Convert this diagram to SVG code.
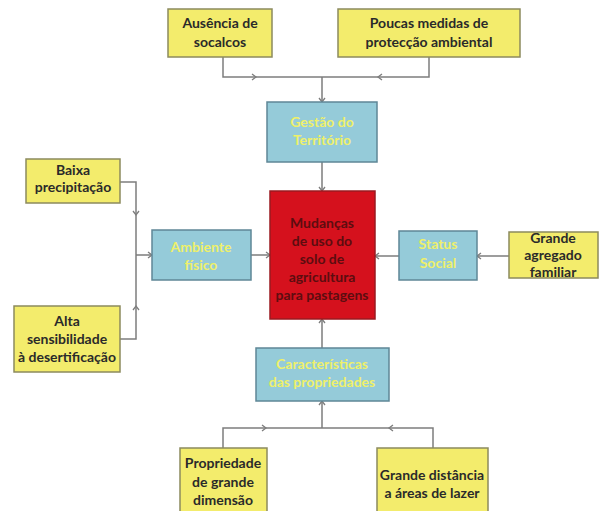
<svg xmlns="http://www.w3.org/2000/svg" width="600" height="511" viewBox="0 0 600 511">
<defs>
<style>
.y{fill:#f3ec6c;stroke:#8c8a5e;stroke-width:1.5}
.b{fill:#95cbd9;stroke:#5f8796;stroke-width:1.5}
.r{fill:#d5111d;stroke:#9a1a20;stroke-width:1.5}
text{font-family:Lato,"Open Sans","Liberation Sans",sans-serif;font-weight:bold;font-size:14px;text-anchor:middle}
.ty{fill:#2a2a2a}
.tb{fill:#eef06a}
.tr{fill:#5c0d10}
.c path{fill:none;stroke:#7d7d7d;stroke-width:1.5}
.m{marker-end:url(#a)}
</style>
<marker id="a" markerUnits="userSpaceOnUse" markerWidth="10" markerHeight="10" refX="6" refY="4" orient="auto">
<path d="M2,1 L6,4 L2,7" fill="none" stroke="#7d7d7d" stroke-width="1.3"/>
</marker>
</defs>
<rect width="600" height="511" fill="#ffffff"/>
<g class="c" id="connectors">
<path class="m" d="M223,57 V77 H256"/><path d="M256,77 H322"/>
<path class="m" d="M429,57 V77 H378"/><path d="M378,77 H322"/>
<path class="m" d="M322,77 V102"/>
<path class="m" d="M322,162 V191"/>
<path class="m" d="M120,182 H136 V215"/><path d="M136,215 V255"/>
<path class="m" d="M120,339 H136 V306"/><path d="M136,306 V255"/>
<path class="m" d="M136,255 H152"/>
<path class="m" d="M251,255 H270"/>
<path class="m" d="M509,256 H477"/>
<path class="m" d="M399,256 H375"/>
<path class="m" d="M322,348 V319"/>
<path class="m" d="M322,428 V401"/>
<path class="m" d="M223,448 V428 H266"/><path d="M266,428 H322"/>
<path class="m" d="M433,448 V428 H389"/><path d="M389,428 H322"/>
</g>
<g id="ausencia"><rect class="y" x="168" y="9" width="104" height="48"/>
<text class="ty" x="220" y="28">Ausência de</text><text class="ty" x="220" y="47">socalcos</text></g>
<g id="poucas"><rect class="y" x="338" y="9" width="182" height="48"/>
<text class="ty" x="429" y="28">Poucas medidas de</text><text class="ty" x="429" y="47">protecção ambiental</text></g>
<g id="gestao"><rect class="b" x="267" y="102" width="110" height="60"/>
<text class="tb" x="322" y="127">Gestão do</text><text class="tb" x="322" y="145">Território</text></g>
<g id="mudancas"><rect class="r" x="270" y="191" width="105" height="128"/>
<text class="tr" x="322" y="228">Mudanças</text><text class="tr" x="322" y="246">de uso do</text><text class="tr" x="322" y="264">solo de</text><text class="tr" x="322" y="282">agricultura</text><text class="tr" x="322" y="300">para pastagens</text></g>
<g id="baixa"><rect class="y" x="26" y="159" width="94" height="44"/>
<text class="ty" x="73" y="175">Baixa</text><text class="ty" x="73" y="192">precipitação</text></g>
<g id="alta"><rect class="y" x="14" y="306" width="106" height="66"/>
<text class="ty" x="67" y="326">Alta</text><text class="ty" x="67" y="344">sensibilidade</text><text class="ty" x="67" y="362">à desertificação</text></g>
<g id="ambiente"><rect class="b" x="152" y="230" width="99" height="50"/>
<text class="tb" x="201" y="252">Ambiente</text><text class="tb" x="201" y="270">físico</text></g>
<g id="status"><rect class="b" x="399" y="231" width="78" height="49"/>
<text class="tb" x="438" y="249">Status</text><text class="tb" x="438" y="268">Social</text></g>
<g id="agregado"><rect class="y" x="509" y="232" width="89" height="46"/>
<text class="ty" x="553" y="243">Grande</text><text class="ty" x="553" y="260">agregado</text><text class="ty" x="553" y="277">familiar</text></g>
<g id="caracteristicas"><rect class="b" x="256" y="348" width="133" height="53"/>
<text class="tb" x="322" y="369">Características</text><text class="tb" x="322" y="387">das propriedades</text></g>
<g id="propriedade"><rect class="y" x="180" y="448" width="87" height="70"/>
<text class="ty" x="223" y="468">Propriedade</text><text class="ty" x="223" y="487">de grande</text><text class="ty" x="223" y="505">dimensão</text></g>
<g id="distancia"><rect class="y" x="377" y="448" width="111" height="70"/>
<text class="ty" x="432" y="480">Grande distância</text><text class="ty" x="432" y="498">a áreas de lazer</text></g>
</svg>
